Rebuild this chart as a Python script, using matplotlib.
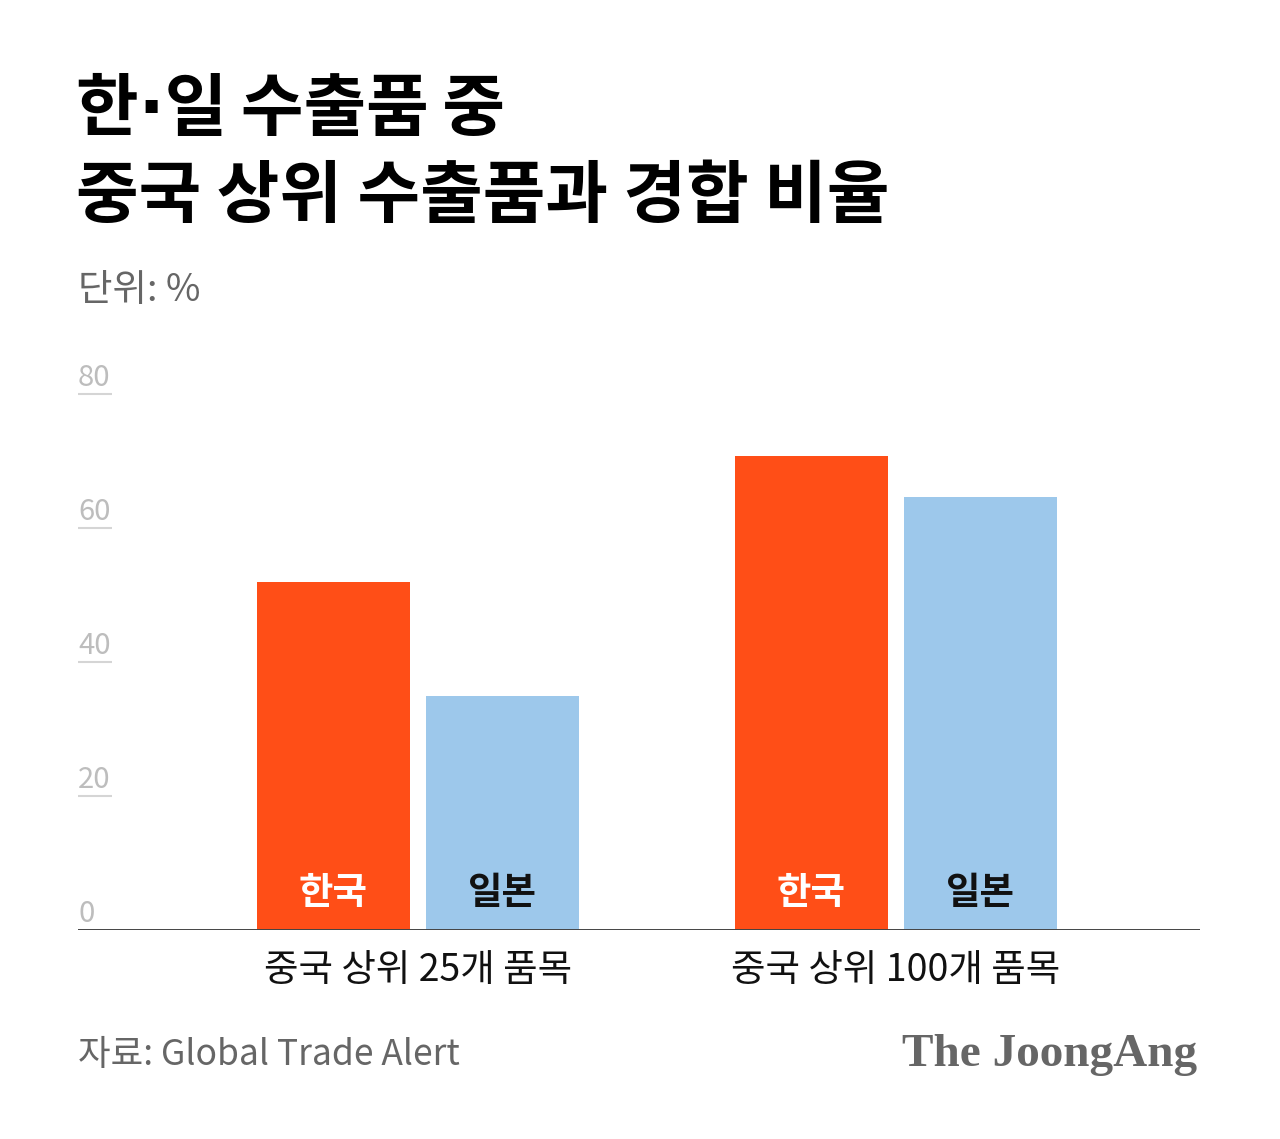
import matplotlib
matplotlib.use("Agg")
import matplotlib.pyplot as plt
import numpy as np

# ---- data ----
categories = ['중국 상위 25개 품목', '중국 상위 100개 품목']
series_names = ['한국', '일본']
korea = [51.9, 70.8]
japan = [35.0, 64.6]
yticks = [0, 20, 40, 60, 80]

# ---- style ----
plt.rcParams['font.family'] = ['Noto Sans CJK KR', 'DejaVu Sans']
ORANGE = '#FF4E17'
BLUE = '#9DC8EB'
GRAY_TXT = '#666666'
TICK_GRAY = '#BDBDBD'

W, H = 1280, 1139
fig = plt.figure(figsize=(W / 100, H / 100), dpi=100)
fig.patch.set_facecolor('white')

# axes in pixel layout
left, right, bottom, top = 78, 1200, 930, 394
ax = fig.add_axes([left / W, (H - bottom) / H, (right - left) / W, (bottom - top) / H])
ax.set_ylim(0, 80)

# x layout: group spacing 478 px, first group centre at 418 px
span = (right - left) / 478.0
x0 = -(418 - left) / 478.0
ax.set_xlim(x0, x0 + span)

x = np.arange(len(categories))
bw = 153 / 478.0
off = (153 / 2 + 8) / 478.0

bk = ax.bar(x - off, korea, width=bw, color=ORANGE, linewidth=0, zorder=2)
bj = ax.bar(x + off, japan, width=bw, color=BLUE, linewidth=0, zorder=2)

for rect in bk:
    ax.annotate(series_names[0], (rect.get_x() + rect.get_width() / 2, 0),
                xytext=(0, 27), textcoords='offset points', ha='center', va='center',
                fontsize=27, fontweight='bold', color='white', zorder=3)
for rect in bj:
    ax.annotate(series_names[1], (rect.get_x() + rect.get_width() / 2, 0),
                xytext=(0, 27), textcoords='offset points', ha='center', va='center',
                fontsize=27, fontweight='bold', color='#111111', zorder=3)

for s in ax.spines.values():
    s.set_visible(False)
ax.axhline(0, color='#444444', lw=1.4, zorder=4)

ax.set_yticks([])
ax.set_xticks(x)
ax.set_xticklabels(categories, fontsize=27, fontweight='medium', color='#111111')
ax.tick_params(axis='x', length=0, pad=15)

# y gridline stubs & labels
ytr = ax.get_yaxis_transform()
for t in yticks:
    if t != 0:
        ax.plot([0, 34 / (right - left)], [t, t], transform=ytr, color='#D5D5D5', lw=1.5,
                clip_on=False, solid_capstyle='butt')
    ax.annotate(str(t), (0, t), xycoords=ytr, xytext=(0, 1), textcoords='offset points',
                ha='left', va='bottom', fontsize=21, color=TICK_GRAY)

# titles (narrow middle dot and thin spaces from DejaVu, hangul from Noto CJK)
fig.text(76 / W, 1 - 78 / H, '한·일\u2009수출품\u2009중', fontsize=49, fontweight='black',
         family=['DejaVu Sans', 'Noto Sans CJK KR'],
         color='black', ha='left', va='top')
fig.text(76 / W, 1 - 163 / H, '중국 상위 수출품과 경합 비율', fontsize=49, fontweight='black',
         color='black', ha='left', va='top')
fig.text(78 / W, 1 - 290 / H, '단위: %', fontsize=27, color=GRAY_TXT, ha='left', va='center')

# footer
fig.text(78 / W, 1 - 1055 / H, '자료: Global Trade Alert', fontsize=25.5, color=GRAY_TXT,
         ha='left', va='center')
fig.text(1197 / W, 1 - 1055 / H, 'The JoongAng', fontsize=34, fontweight='bold',
         family='Liberation Serif', color=GRAY_TXT, ha='right', va='center')

fig.savefig('out.png', dpi=100, facecolor='white')
